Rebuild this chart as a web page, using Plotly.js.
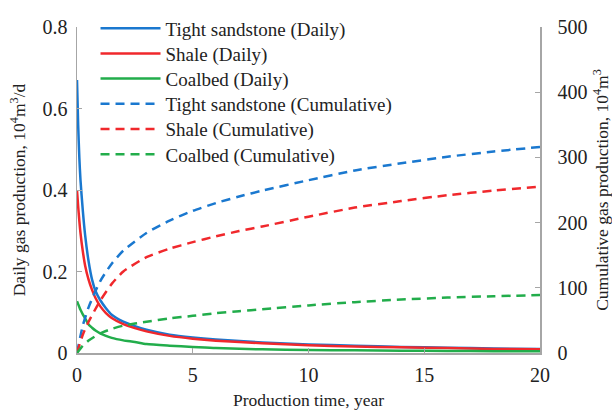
<!DOCTYPE html>
<html>
<head>
<meta charset="utf-8">
<script src="https://cdn.plot.ly/plotly-3.0.1.min.js"></script>
<style>
  html, body { margin: 0; padding: 0; background: #fff; }
  #chart { width: 612px; height: 413px; }
  #chart text { font-family: 'Liberation Serif', 'Times New Roman', serif !important; }
</style>
</head>
<body>
<div id="chart"></div>
<script>
// Production time (years) for the daily-rate curves
const tDaily = [0, 0.05, 0.1, 0.15, 0.25, 0.35, 0.5, 0.65, 0.8, 1, 1.25, 1.5, 2, 2.5, 3, 4, 5, 6, 8, 10, 12, 14, 16, 18, 20];
// Daily gas production, 10^4 m3/d
const tightDaily   = [0.67, 0.56, 0.48, 0.425, 0.35, 0.29, 0.225, 0.18, 0.152, 0.13, 0.11, 0.094, 0.077, 0.066, 0.057, 0.045, 0.038, 0.033, 0.026, 0.021, 0.018, 0.015, 0.013, 0.011, 0.0096];
const shaleDaily   = [0.40, 0.36, 0.325, 0.295, 0.25, 0.215, 0.18, 0.155, 0.135, 0.115, 0.098, 0.086, 0.071, 0.061, 0.053, 0.042, 0.035, 0.030, 0.024, 0.019, 0.016, 0.014, 0.012, 0.010, 0.009];
const coalbedDaily = [0.127, 0.12, 0.113, 0.106, 0.095, 0.085, 0.07, 0.062, 0.055, 0.048, 0.042, 0.037, 0.031, 0.027, 0.022, 0.018, 0.015, 0.012, 0.009, 0.0075, 0.0065, 0.0055, 0.005, 0.0045, 0.004];

// Production time (years) for the cumulative curves
const tCum = [0, 0.25, 0.5, 1, 1.5, 2, 3, 4, 5, 6, 7, 8, 10, 12, 14, 16, 18, 20];
// Cumulative gas production, 10^4 m3
const tightCum   = [0, 42, 70, 110, 137, 157, 184, 203, 218, 230, 240, 249, 265, 280, 291, 301, 309, 316];
const shaleCum   = [0, 28, 48, 80, 106, 125, 147, 160, 170, 179, 187, 194, 209, 223, 233, 242, 249, 255];
const coalbedCum = [0, 11, 19, 30, 37, 42, 48, 53, 57, 61, 64, 67, 73, 78, 82, 85, 87, 89];

const seriesNames = ['Tight sandstone', 'Shale', 'Coalbed'];
const colors = ['#1A78CF', '#F0282C', '#22AD4B'];

const dailySets = [tightDaily, shaleDaily, coalbedDaily];
const cumSets = [tightCum, shaleCum, coalbedCum];

const traces = [];
dailySets.forEach((ys, i) => {
  traces.push({
    x: tDaily, y: ys, type: 'scatter', mode: 'lines',
    name: seriesNames[i] + ' (Daily)',
    line: { color: colors[i], width: 2.5, shape: 'spline', smoothing: 0.6 },
    yaxis: 'y'
  });
});
cumSets.forEach((ys, i) => {
  traces.push({
    x: tCum, y: ys, type: 'scatter', mode: 'lines',
    name: seriesNames[i] + ' (Cumulative)',
    line: { color: colors[i], width: 2.5, dash: '9px,6px', shape: 'spline', smoothing: 0.6 },
    yaxis: 'y2'
  });
});

const serif = 'Liberation Serif';
const ink = '#222';
const axisGray = '#A6A6A6';
const titleFont = { family: serif, size: 17.5, color: ink };
const tickFont = { family: serif, size: 20, color: ink };

const layout = {
  width: 612, height: 413,
  margin: { l: 77, r: 72, t: 20, b: 60 },
  paper_bgcolor: '#fff', plot_bgcolor: '#fff',
  font: { family: serif, size: 18, color: ink },
  showlegend: true,
  legend: {
    x: 0.04, y: 1.045, xanchor: 'left', yanchor: 'top',
    bgcolor: 'rgba(0,0,0,0)', borderwidth: 0,
    font: { family: serif, size: 19, color: ink },
    itemwidth: 60, tracegroupgap: 0
  },
  xaxis: {
    range: [0, 20], tickvals: [0, 5, 10, 15, 20],
    showgrid: false, zeroline: false,
    showline: true, linecolor: axisGray, linewidth: 1.5,
    ticks: 'inside', ticklen: 5, tickcolor: axisGray,
    tickfont: tickFont, ticklabelstandoff: 3,
    title: { text: 'Production time, year', font: titleFont, standoff: 9 }
  },
  yaxis: {
    range: [0, 0.8], tickvals: [0, 0.2, 0.4, 0.6, 0.8],
    showgrid: false, zeroline: false,
    showline: true, linecolor: axisGray, linewidth: 1.5,
    ticks: 'inside', ticklen: 5, tickcolor: axisGray,
    tickfont: tickFont, ticklabelstandoff: 4,
    title: { text: 'Daily gas production, 10<sup>4</sup>m<sup>3</sup>/d', font: titleFont, standoff: 12 }
  },
  yaxis2: {
    overlaying: 'y', side: 'right',
    range: [0, 500], tickvals: [0, 100, 200, 300, 400, 500],
    showgrid: false, zeroline: false,
    showline: true, linecolor: axisGray, linewidth: 1.5,
    ticks: 'inside', ticklen: 5, tickcolor: axisGray,
    tickfont: tickFont, ticklabelstandoff: 12,
    title: { text: 'Cumulative gas production, 10<sup>4</sup>m<sup>3</sup>', font: titleFont, standoff: 12 }
  }
};

Plotly.newPlot('chart', traces, layout, { staticPlot: true, displayModeBar: false }).then(gd => {
  // Longer line samples in the legend, with the labels shifted to follow
  gd.querySelectorAll('.legend .legendlines path').forEach(p => p.setAttribute('d', 'M5,0h60'));
  gd.querySelectorAll('.legend .legendtext').forEach(t => t.setAttribute('x', '70'));
  // Even row pitch for the legend entries, starting a little higher
  const rows = Array.from(gd.querySelectorAll('.legend g.traces'));
  if (rows.length) {
    const m = /translate\(\s*([-\d.]+)[ ,]+([-\d.]+)/.exec(rows[0].getAttribute('transform') || '');
    const x0 = m ? parseFloat(m[1]) : 0;
    const y0 = m ? parseFloat(m[2]) : 0;
    rows.forEach((g, i) => g.setAttribute('transform', `translate(${x0},${y0 - 3 + i * 25.2})`));
  }
});
</script>
</body>
</html>
